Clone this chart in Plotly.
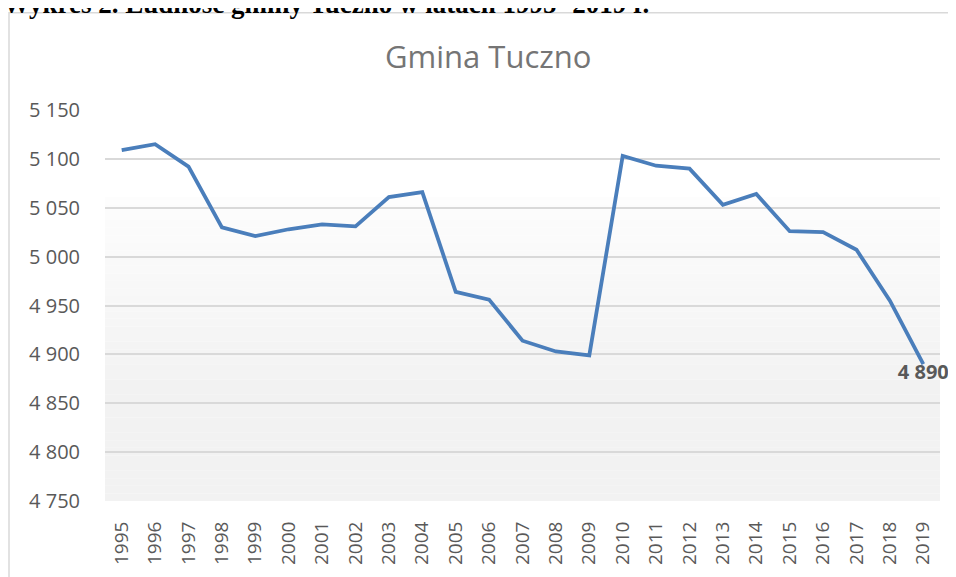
import plotly.graph_objects as go

years = [str(y) for y in range(1995, 2020)]
population = [5109, 5115, 5092, 5030, 5021, 5028, 5033, 5031, 5061, 5066,
              4964, 4956, 4914, 4903, 4899, 5103, 5093, 5090, 5053, 5064,
              5026, 5025, 5007, 4955, 4890]
y_ticks = [4750, 4800, 4850, 4900, 4950, 5000, 5050, 5100, 5150]

chart_title = "Gmina Tuczno"
caption = "Wykres 2. Ludność gminy Tuczno w latach 1995- 2019 r."

OFF = 8  # page body margin
W, H = 956 - OFF, 577 - OFF
ML, MT = 105 - OFF, 110 - OFF
MR = W - (940 - OFF)
MB = H - (504 - OFF)
PW, PH = W - ML - MR, H - MT - MB


def px_x(p):
    return (p - OFF - ML) / PW


def px_y(p):
    return (H - MB - (p - OFF)) / PH


labels = [""] * (len(population) - 1) + ["%{y:,d}"]

fig = go.Figure()
fig.add_trace(go.Scatter(
    x=years, y=population, mode="lines+text",
    line=dict(color="#4a7ebb", width=3.8),
    texttemplate=labels, textposition="bottom center",
    textfont=dict(family="Open Sans", size=20, color="#595959", weight="bold"),
    hoverinfo="x+y", cliponaxis=False, showlegend=False,
))

# background gradient of the plot area (white -> light gray)
shapes = []
top = px_y(198)
n = 40
c0, c1 = 253, 242
for i in range(n):
    f0 = i / n
    f1 = (i + 1) / n
    t = min(1.0, (i + 0.5) / n * 1.6)
    c = round(c0 + (c1 - c0) * t)
    shapes.append(dict(
        type="rect", xref="x domain", yref="y domain",
        x0=0, x1=1, y0=top * (1 - f1), y1=top * (1 - f0),
        fillcolor=f"rgb({c},{c},{c})", line=dict(width=0), layer="below",
    ))
# chart border (partly outside the view)
shapes.append(dict(
    type="rect", xref="paper", yref="paper",
    x0=px_x(9), x1=px_x(975), y0=px_y(600), y1=px_y(12),
    line=dict(color="#d9d9d9", width=1.5), fillcolor="rgba(0,0,0,0)",
    layer="below",
))

fig.update_layout(
    width=W, height=H,
    margin=dict(l=ML, r=MR, t=MT, b=MB),
    paper_bgcolor="white", plot_bgcolor="white",
    separators=", ",
    font=dict(family="Open Sans", color="#595959"),
    shapes=shapes,
    annotations=[
        dict(text=chart_title, xref="paper", yref="paper",
             x=px_x(488), y=px_y(56), xanchor="center", yanchor="middle",
             showarrow=False,
             font=dict(family="Open Sans", size=31, color="#757575")),
        dict(text="<b>" + caption + "</b>", xref="paper", yref="paper",
             x=px_x(1), y=px_y(3), xanchor="left", yanchor="middle",
             showarrow=False,
             font=dict(family="Liberation Serif", size=27, color="#000000")),
    ],
)

fig.update_xaxes(
    type="category", range=[-0.5, len(years) - 0.5],
    tickangle=-90, tickfont=dict(size=19, color="#595959"),
    ticks="outside", ticklen=12, tickcolor="rgba(0,0,0,0)",
    showgrid=False, showline=False, zeroline=False,
)
fig.update_yaxes(
    range=[4750, 5150], tickvals=y_ticks, tickformat=",d",
    tickfont=dict(size=20, color="#595959"),
    ticks="outside", ticklen=20, tickcolor="rgba(0,0,0,0)",
    showgrid=True, gridcolor="#d9d9d9", gridwidth=1.5,
    showline=False, zeroline=False,
)

fig.write_html("out.html")
